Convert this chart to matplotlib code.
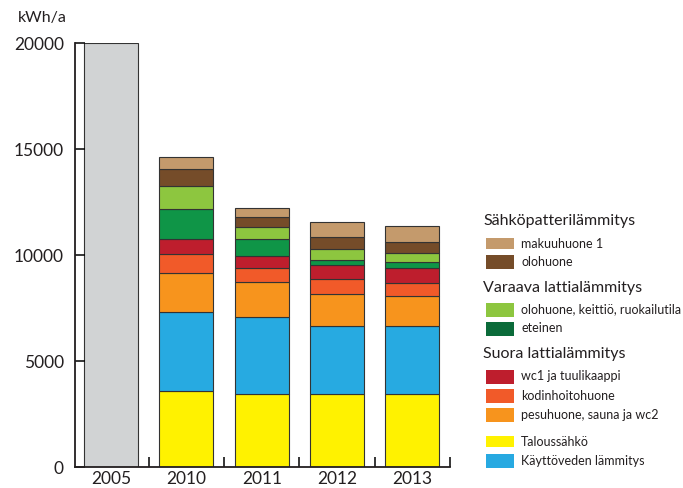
import numpy as np
import matplotlib
matplotlib.use("Agg")
from matplotlib import pyplot as plt, patches

plt.rcParams['font.family'] = ['Lato', 'DejaVu Sans']

years = ['2005', '2010', '2011', '2012', '2013']
total_2005 = 20000

# stacked parts for 2010-2013, bottom to top
talous = [3585, 3443, 3428, 3459]
kayttovesi = [3712, 3618, 3207, 3176]
pesuhuone = [1840, 1650, 1540, 1417]
kodinhoito = [896, 660, 678, 643]
wc1 = [708, 596, 660, 676]
eteinen = [1415, 774, 267, 299]
olohuone_keittio = [1085, 595, 519, 409]
olohuone = [801, 441, 536, 519]
makuuhuone = [566, 454, 707, 754]

stack = [
    (talous, '#fff200'),
    (kayttovesi, '#27aae1'),
    (pesuhuone, '#f7941d'),
    (kodinhoito, '#f15a29'),
    (wc1, '#be1e2d'),
    (eteinen, '#0f9547'),
    (olohuone_keittio, '#8dc63f'),
    (olohuone, '#754c29'),
    (makuuhuone, '#c49a6c'),
]

txt = '#231f20'
fig = plt.figure(figsize=(6.83, 4.88), dpi=100)
ax = fig.add_axes([75 / 683, 21 / 488, 375 / 683, 424 / 488])

width = 0.718
ax.bar(0, total_2005, width, color='#d1d3d4', edgecolor='#333333', linewidth=0.8)
x = np.arange(1, 5)
bottom = np.zeros(4)
for vals, col in stack:
    ax.bar(x, vals, width, bottom=bottom, color=col, edgecolor='#333333', linewidth=0.8)
    bottom += np.array(vals)

ax.set_xlim(-0.48, 4.5)
ax.set_ylim(0, 20000)
for s in ['top', 'right']:
    ax.spines[s].set_visible(False)
for s in ['left', 'bottom']:
    ax.spines[s].set_linewidth(1.3)
    ax.spines[s].set_color('#231f20')

ax.set_yticks([0, 5000, 10000, 15000, 20000])
ax.set_yticklabels(['0', '5000', '10000', '15000', '20000'])
ax.tick_params(axis='y', direction='in', length=7, width=1.1, labelsize=12.5,
               labelcolor=txt, pad=8)
ax.set_xticks(np.arange(5))
ax.set_xticklabels(years)
ax.tick_params(axis='x', length=0, labelsize=12.5, labelcolor=txt, pad=3)
ax.set_xticks(np.arange(5) + 0.5, minor=True)
ax.tick_params(axis='x', which='minor', direction='in', length=7, width=1.1)

fig.text(42 / 683, 1 - 18 / 488, 'kWh/a', ha='center', va='center', fontsize=11.5, color=txt)

# legend
heads = [('Sähköpatterilämmitys', 221), ('Varaava lattialämmitys', 288),
         ('Suora lattialämmitys', 354)]
for label, yy in heads:
    fig.text(483 / 683, 1 - yy / 488, label, ha='left', va='center', fontsize=11.5, color=txt)

items = [
    ('makuuhuone 1', '#c49a6c', 243.5, 11),
    ('olohuone', '#754c29', 261.5, 14),
    ('olohuone, keittiö, ruokailutila', '#8dc63f', 309.5, 14),
    ('eteinen', '#0b6b3a', 328.5, 14),
    ('wc1 ja tuulikaappi', '#be1e2d', 376.5, 14),
    ('kodinhoitohuone', '#f15a29', 395.5, 14),
    ('pesuhuone, sauna ja wc2', '#f7941d', 415, 14),
    ('Taloussähkö', '#fff200', 441.5, 11),
    ('Käyttöveden lämmitys', '#27a9e1', 461, 14),
]
for label, col, yy, hh in items:
    fig.patches.append(patches.Rectangle((486 / 683, 1 - (yy + hh / 2) / 488), 28 / 683, hh / 488,
                                         transform=fig.transFigure, facecolor=col,
                                         edgecolor='none'))
    fig.text(521 / 683, 1 - yy / 488, label, ha='left', va='center', fontsize=9, color=txt)

fig.savefig('out.png', dpi=100)
